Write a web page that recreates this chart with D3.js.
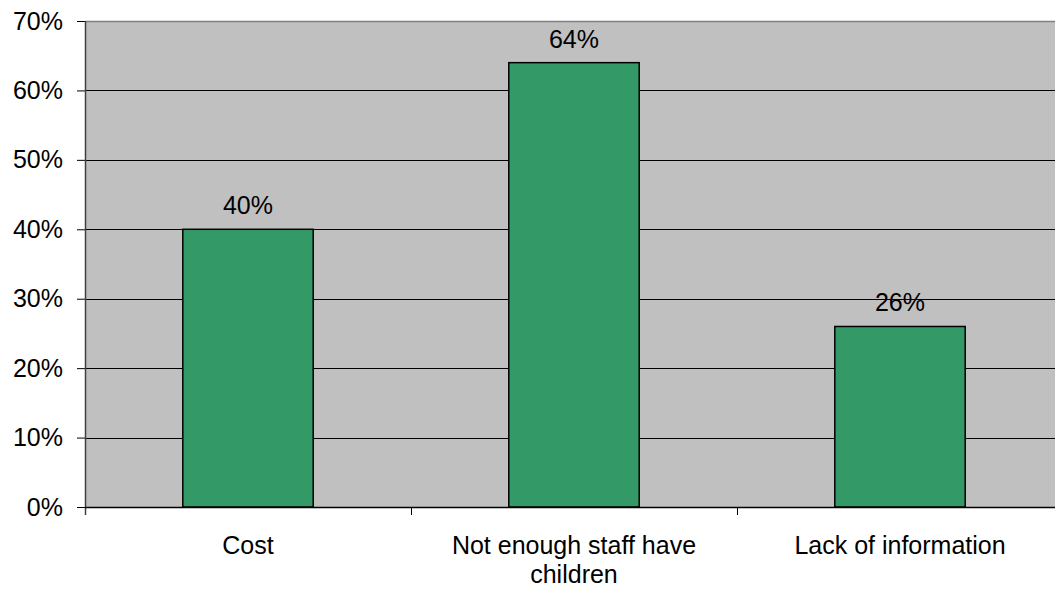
<!DOCTYPE html>
<html>
<head>
<meta charset="utf-8">
<script src="https://cdn.jsdelivr.net/npm/d3@7"></script>
<style>
  html, body { margin: 0; padding: 0; background: #fff; }
  svg { display: block; }
  text { font-family: "Liberation Sans", Arial, sans-serif; fill: #000; }
</style>
</head>
<body>
<svg id="chart" width="1055" height="590"></svg>
<script>
// Reasons given (share of respondents)
const categories = ["Cost", "Not enough staff have children", "Lack of information"];
const categoryLines = [["Cost"], ["Not enough staff have", "children"], ["Lack of information"]];
const values = [0.40, 0.64, 0.26];
const yTicks = [0, 0.1, 0.2, 0.3, 0.4, 0.5, 0.6, 0.7];

const W = 1055, H = 590;
const margin = { left: 85, top: 21, bottom: 83 };
const plotW = 978; // three bands of ~326px; right edge runs off the page
const plotH = H - margin.top - margin.bottom;

const svg = d3.select("#chart");
const g = svg.append("g").attr("transform", `translate(${margin.left},${margin.top})`);

const x = d3.scaleBand().domain(categories).range([0, plotW]).paddingInner(0.6).paddingOuter(0.3);
const xOuter = d3.scaleBand().domain(categories).range([0, plotW]);
const y = d3.scaleLinear().domain([0, 0.7]).range([plotH, 0]);

// plot background
g.append("rect").attr("x", 0).attr("y", 0).attr("width", plotW).attr("height", plotH).attr("fill", "#c0c0c0");

// gridlines
g.selectAll("line.grid").data(yTicks.filter(t => t > 0 && t < 0.7)).join("line")
  .attr("class", "grid")
  .attr("x1", 0).attr("x2", plotW)
  .attr("y1", d => Math.round(y(d)) + 0.5).attr("y2", d => Math.round(y(d)) + 0.5)
  .attr("stroke", "#000").attr("stroke-width", 1);

// top border
g.append("line").attr("x1", 0).attr("x2", plotW).attr("y1", 0.5).attr("y2", 0.5)
  .attr("stroke", "#808080").attr("stroke-width", 1.5);

// bars
g.selectAll("rect.bar").data(values).join("rect")
  .attr("class", "bar")
  .attr("x", (d, i) => x(categories[i]))
  .attr("width", x.bandwidth())
  .attr("y", d => y(d))
  .attr("height", d => plotH - y(d))
  .attr("fill", "#339966")
  .attr("stroke", "#000").attr("stroke-width", 1.5);

// value labels
g.selectAll("text.val").data(values).join("text")
  .attr("class", "val")
  .attr("x", (d, i) => x(categories[i]) + x.bandwidth() / 2)
  .attr("y", d => y(d) - 15)
  .attr("text-anchor", "middle")
  .attr("font-size", "25px")
  .text(d => Math.round(d * 100) + "%");

// y axis
const yAxis = d3.axisLeft(y).tickValues(yTicks).tickFormat(d3.format(".0%")).tickSize(8).tickPadding(14);
const ya = g.append("g").call(yAxis);
ya.select(".domain").remove();
ya.selectAll(".tick line").attr("stroke", "#000");
ya.selectAll(".tick text").attr("font-size", "25px").attr("font-family", "Liberation Sans, Arial, sans-serif").attr("fill", "#000");
g.append("line").attr("x1", 0.5).attr("x2", 0.5).attr("y1", 0).attr("y2", plotH + 8)
  .attr("stroke", "#404040").attr("stroke-width", 1.5);

// x axis
g.append("line").attr("x1", 0).attr("x2", plotW).attr("y1", plotH + 0.5).attr("y2", plotH + 0.5)
  .attr("stroke", "#000").attr("stroke-width", 1.5);
g.selectAll("line.xtick").data(categories.slice(1)).join("line")
  .attr("class", "xtick")
  .attr("x1", d => Math.round(xOuter(d)) + 0.5).attr("x2", d => Math.round(xOuter(d)) + 0.5)
  .attr("y1", plotH).attr("y2", plotH + 8)
  .attr("stroke", "#000");

// category labels
const lbl = g.selectAll("text.cat").data(categories).join("text")
  .attr("class", "cat")
  .attr("x", d => xOuter(d) + xOuter.bandwidth() / 2)
  .attr("y", plotH + 47)
  .attr("text-anchor", "middle")
  .attr("font-size", "25px");
lbl.selectAll("tspan").data((d, i) => categoryLines[i]).join("tspan")
  .attr("x", function() { return this.parentNode.getAttribute("x"); })
  .attr("dy", (d, i) => i === 0 ? 0 : 29)
  .text(d => d);
</script>
</body>
</html>
